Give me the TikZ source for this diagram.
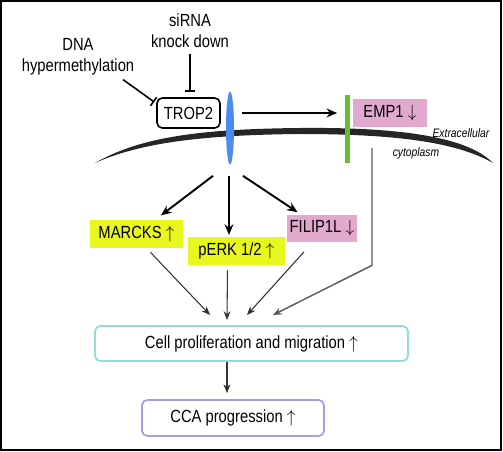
\documentclass[tikz,border=0pt]{standalone}
\usepackage{fontspec}
\setmainfont{Liberation Sans}[FakeStretch=0.84]
\usepackage{xcolor}
\usetikzlibrary{arrows.meta,positioning,calc,shapes.geometric}

\definecolor{geneup}{HTML}{E8F71E}
\definecolor{genedown}{HTML}{E2A9CF}
\definecolor{membblue}{HTML}{4A8CF2}
\definecolor{membgreen}{HTML}{66BB2E}
\definecolor{cellcyan}{HTML}{8FDEDC}
\definecolor{ccapurple}{HTML}{A99CE2}

\begin{document}
\begin{tikzpicture}[x=0.02cm, y=-0.02cm,
  font=\fontsize{10}{12}\selectfont,
  gene/.style={minimum height=0.56cm, inner sep=1pt},
  outbox/.style={draw, rounded corners=3pt, line width=1pt, minimum height=0.7cm},
  arrow/.style={-{Stealth[length=6pt, width=5pt]}, line width=1.1pt},
  thinarrow/.style={-{Stealth[length=5pt, width=4pt]}, line width=0.6pt, black!80},
  inhibit/.style={-{Bar[width=6pt]}, line width=0.9pt},
  note/.style={font=\fontsize{7}{8}\selectfont\itshape}
]
\useasboundingbox (0,0) rectangle (503,452);
\draw[line width=1.2pt] (1,1) rectangle (501,450);

% Top: regulators of TROP2
\node[align=center] (dna) at (78,57) {DNA\\hypermethylation};
\node[align=center] (sirna) at (190,31) {siRNA\\knock down};
\node[draw, rounded corners=3pt, line width=0.9pt, minimum width=1.26cm, minimum height=0.6cm] (trop) at (188.5,113) {TROP2};

% Membrane
\fill[black!85] (95,163) .. controls (140,137) and (200,129) .. (300,128)
  .. controls (400,127) and (468,137) .. (493,163)
  .. controls (458,143) and (400,134) .. (300,134)
  .. controls (200,135) and (140,143) .. cycle;
\node[ellipse, fill=membblue, minimum width=0.16cm, minimum height=1.46cm, inner sep=0pt] (channel) at (230,128) {};
\node[fill=membgreen, minimum width=0.1cm, minimum height=1.36cm, inner sep=0pt] (greenbar) at (347,129) {};
\node[gene, fill=genedown, minimum width=1.48cm] (emp) at (390,113.5) {EMP1 $\downarrow$};
\node[note] (extra) at (461,133) {Extracellular};
\node[note] (cyto) at (416,153) {cytoplasm};

% Downstream genes
\node[gene, fill=geneup, minimum width=1.86cm] (marcks) at (136.5,234) {MARCKS $\uparrow$};
\node[gene, fill=geneup, minimum width=1.94cm] (perk) at (236.5,251) {pERK 1/2 $\uparrow$};
\node[gene, fill=genedown, minimum width=1.4cm] (filip) at (322,228.5) {FILIP1L $\downarrow$};

% Outcomes
\node[outbox, draw=cellcyan, minimum width=6.26cm] (prolif) at (251.5,343.5) {Cell proliferation and migration $\uparrow$};
\node[outbox, draw=ccapurple, minimum width=3.64cm, minimum height=0.72cm] (cca) at (233,418) {CCA progression $\uparrow$};

% Connector end points
\coordinate (sL) at ($(channel.south)+(-17,11)$);
\coordinate (sM) at ($(channel.south)+(-1,11)$);
\coordinate (sR) at ($(channel.south)+(13,11)$);
\coordinate (in1) at (210,315);
\coordinate (in2) at (227,320);
\coordinate (in3) at (247,315);
\coordinate (in4) at (273,315);
\coordinate (e1) at (372,148);

% Arrows
\draw[inhibit] ($(dna.south)+(45,-2)$) -- ($(trop.west)+(-2,-11)$);
\draw[inhibit, shorten >=3pt] (sirna.south) -- (sirna.south |- trop.north);
\draw[arrow, shorten >=4pt] ($(trop.east)+(21,0)$) -- (greenbar.west |- trop.east);
\draw[arrow, shorten >=4pt] (sL) -- (marcks);
\draw[arrow, shorten >=1pt] (sM) -- (sM |- perk.north);
\draw[arrow, shorten >=2pt] (sR) -- (filip);
\draw[thinarrow] ($(marcks.south)+(14,4)$) -- (in1);
\draw[thinarrow] ($(perk.south)+(-9,5)$) -- (in2);
\draw[thinarrow] ($(filip.south)+(-18,9)$) -- (in3);
\draw[thinarrow, line width=0.8pt, black!65] (e1) -- (e1 |- perk.south) -- (in4);
\draw[thinarrow] (prolif.south -| in2) -- ($(cca.north -| in2)+(0,-6)$);
\end{tikzpicture}
\end{document}
